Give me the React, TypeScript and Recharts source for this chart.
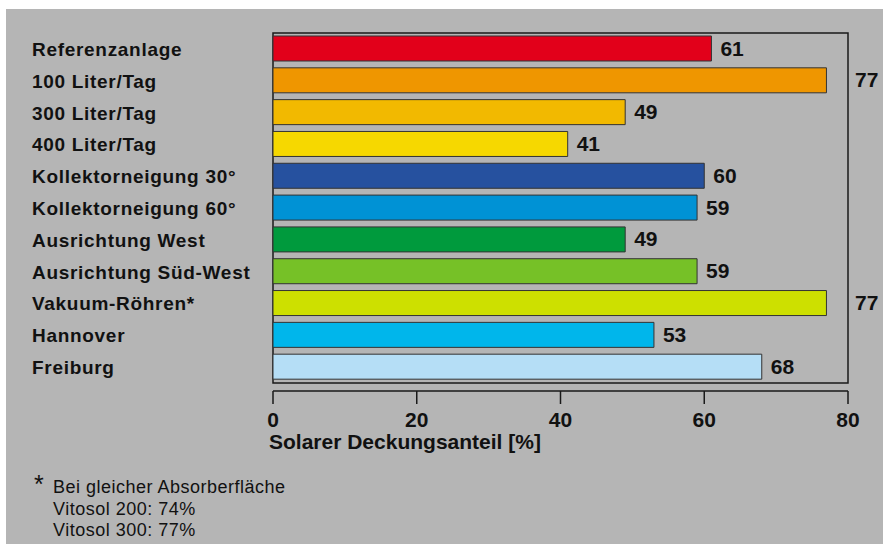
import { BarChart, Bar, XAxis, YAxis, Cell, LabelList, ReferenceArea } from "recharts";

const categories = [
  "Referenzanlage",
  "100 Liter/Tag",
  "300 Liter/Tag",
  "400 Liter/Tag",
  "Kollektorneigung 30°",
  "Kollektorneigung 60°",
  "Ausrichtung West",
  "Ausrichtung Süd-West",
  "Vakuum-Röhren*",
  "Hannover",
  "Freiburg",
];
const values = [61, 77, 49, 41, 60, 59, 49, 59, 77, 53, 68];
const barColors = [
  "#e2001a",
  "#ef9600",
  "#f2b900",
  "#f6d800",
  "#26519f",
  "#0092d5",
  "#009a3d",
  "#76c127",
  "#cde000",
  "#00b6eb",
  "#b5def6",
];
const xTicks = [0, 20, 40, 60, 80];
const footnote = ["Bei gleicher Absorberfläche", "Vitosol 200: 74%", "Vitosol 300: 77%"];

const data = categories.map((name, i) => ({ name, value: values[i] }));

const FONT = '"Liberation Sans", Arial, sans-serif';
const INK = "#111";

function CategoryTick(props: any) {
  const { y, payload } = props;
  return (
    <text
      x={32}
      y={y + 7}
      fill={INK}
      fontFamily={FONT}
      fontWeight="bold"
      fontSize={19}
      letterSpacing={0.7}
      textAnchor="start"
    >
      {payload.value}
    </text>
  );
}

function ValueLabel(props: any) {
  const { x, y, width, height, value } = props;
  const perUnit = width / value;
  const plotRight = x + 80 * perUnit;
  // the longest bars get their number outside the frame
  const lx = value >= 77 ? plotRight + 7 : x + width + 9;
  return (
    <text
      x={lx}
      y={y + height / 2 + 7}
      fill={INK}
      fontFamily={FONT}
      fontWeight="bold"
      fontSize={21}
    >
      {value}
    </text>
  );
}

export default function App() {
  return (
    <div style={{ position: "fixed", left: 0, top: 0, width: 883, height: 544, background: "#fff", overflow: "hidden" }}>
      <div style={{ position: "absolute", left: 6, top: 9, right: 0, bottom: 0, background: "#b5b5b5" }} />
      <div style={{ position: "absolute", left: 0, top: 0 }}>
        <BarChart
          width={883}
          height={544}
          data={data}
          layout="vertical"
          margin={{ top: 24, right: 35, left: 0, bottom: 93 }}
          barSize={25}
        >
          <ReferenceArea x1={0} x2={80} fill="none" stroke="#1a1a1a" strokeWidth={1.5} ifOverflow="visible" />
          <XAxis
            type="number"
            domain={[0, 80]}
            ticks={xTicks}
            interval={0}
            height={60}
            tickSize={13}
            tickMargin={8}
            axisLine={{ stroke: "#1a1a1a", strokeWidth: 1.5 }}
            tickLine={{ stroke: "#1a1a1a", strokeWidth: 1.5 }}
            tick={{ fill: INK, fontFamily: FONT, fontWeight: "bold", fontSize: 21 }}
          />
          <YAxis
            type="category"
            dataKey="name"
            width={273}
            axisLine={false}
            tickLine={false}
            padding={{ top: 9, bottom: 8 }}
            tick={<CategoryTick />}
            interval={0}
          />
          <Bar dataKey="value" stroke="#333" strokeWidth={1} isAnimationActive={false}>
            {data.map((d, i) => (
              <Cell key={d.name} fill={barColors[i]} />
            ))}
            <LabelList dataKey="value" content={<ValueLabel />} />
          </Bar>
        </BarChart>
      </div>
      <div
        style={{
          position: "absolute",
          left: 269,
          top: 430,
          fontFamily: FONT,
          fontWeight: "bold",
          fontSize: 21,
          color: INK,
          whiteSpace: "nowrap",
        }}
      >
        Solarer Deckungsanteil [%]
      </div>
      <div
        style={{
          position: "absolute",
          left: 32,
          top: 477,
          fontFamily: FONT,
          fontSize: 18,
          letterSpacing: 0.5,
          lineHeight: "21.5px",
          color: INK,
        }}
      >
        {footnote.map((line, i) => (
          <div key={line} style={{ position: "relative", paddingLeft: 21 }}>
            {i === 0 && (
              <span style={{ position: "absolute", left: 2, top: -3, fontSize: 25 }}>*</span>
            )}
            {line}
          </div>
        ))}
      </div>
    </div>
  );
}
